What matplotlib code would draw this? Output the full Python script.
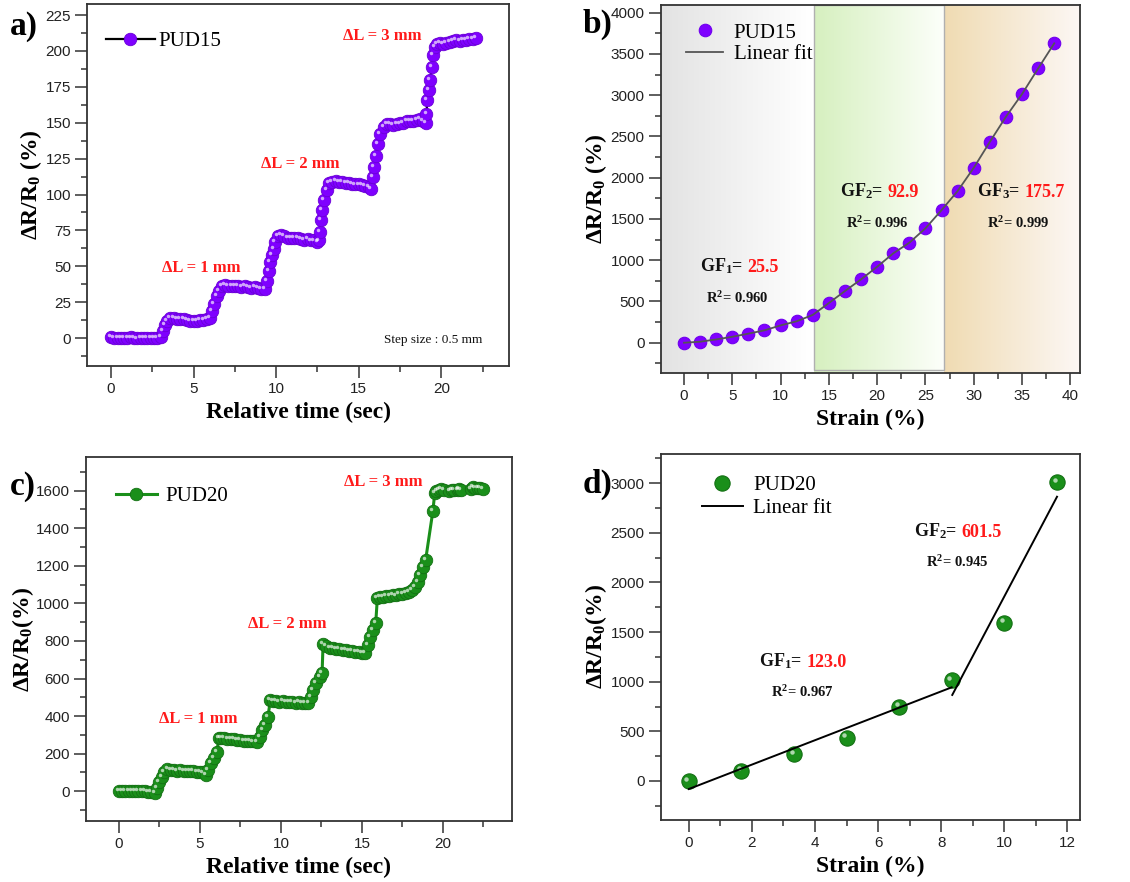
import numpy as np
import matplotlib.pyplot as plt
from matplotlib.ticker import MultipleLocator
from matplotlib.transforms import offset_copy
from matplotlib.patches import Rectangle

plt.rcParams['font.family'] = ['Liberation Serif', 'DejaVu Serif']
plt.rcParams['mathtext.fontset'] = 'custom'
plt.rcParams['mathtext.rm'] = 'Liberation Serif'
plt.rcParams['mathtext.it'] = 'Liberation Serif:italic'
plt.rcParams['mathtext.bf'] = 'Liberation Serif:bold'

PURPLE = '#7f00ff'
GREEN = '#1a8f1a'
RED = '#ff1a1a'

# ---- a) PUD15 step response
t_a = [0.0, 0.2, 0.4, 0.6, 0.8, 1.0, 1.2, 1.4, 1.6, 1.8, 2.0, 2.2, 2.4, 2.6, 2.8, 3.0,
       3.15, 3.25, 3.4, 3.6, 3.8, 4.0, 4.2, 4.4, 4.6, 4.8, 5.0, 5.2, 5.4, 5.6, 5.8, 6.0,
       6.1, 6.25, 6.4, 6.55, 6.7, 6.9, 7.1, 7.3, 7.5, 7.7, 7.9, 8.1, 8.3, 8.5, 8.7, 8.9, 9.1, 9.3,
       9.45, 9.55, 9.65, 9.75, 9.85, 9.95, 10.1, 10.3, 10.5, 10.7, 10.9, 11.1, 11.3, 11.5, 11.7, 11.9, 12.1, 12.3, 12.5,
       12.6, 12.65, 12.72, 12.8, 12.9, 13.05, 13.2, 13.4, 13.6, 13.8, 14.0, 14.2, 14.4, 14.6, 14.8, 15.0, 15.2, 15.4, 15.6, 15.75,
       15.85, 15.95, 16.05, 16.15, 16.3, 16.5, 16.7, 16.9, 17.1, 17.3, 17.5, 17.7, 17.9, 18.1, 18.3, 18.5, 18.7, 18.9, 19.05,
       19.1, 19.15, 19.25, 19.32, 19.42, 19.52, 19.62, 19.75, 19.9, 20.1, 20.3, 20.5, 20.7, 20.9, 21.1, 21.3, 21.5, 21.7, 21.9, 22.1]
y_a = [0.5, 0.2, 0.0, 0.3, -0.2, 0.1, 0.4, 0.0, -0.3, 0.2, 0.0, 0.3, -0.1, 0.2, 0.0, 1.0,
       5, 9, 12, 14, 14, 13.5, 13, 13, 12.5, 12, 12, 12, 12.5, 12.5, 13, 14,
       19, 24, 29, 33, 36, 37, 36.5, 36, 36, 36.5, 35.5, 36, 35.5, 35, 35.5, 35, 34.5, 34,
       40, 47, 53, 58, 62, 67, 71, 72, 71, 70, 70, 69.5, 70, 69, 68.5, 69, 68, 68, 67,
       68, 74, 82, 89, 96, 103, 108, 109, 109.5, 109, 108.5, 108, 108, 107.5, 107, 107, 106.5, 106, 105, 104,
       112, 119, 127, 135, 142, 147, 149, 149, 148.5, 149, 149.5, 150, 151, 151, 151.5, 152, 152.5, 151, 150,
       156, 166, 173, 180, 189, 197, 203, 205, 205.5, 205, 205.5, 206, 207, 207.5, 207, 208, 208, 208.5, 208.5, 209]

# ---- b) PUD15 strain
strain_b = [0, 1.67, 3.33, 5, 6.67, 8.33, 10, 11.67, 13.33, 15, 16.67, 18.33,
            20, 21.67, 23.33, 25, 26.67, 28.33, 30, 31.67, 33.33, 35, 36.67, 38.33]
dr_b = [0, 12, 40, 72, 110, 150, 210, 260, 337, 481, 627, 768,
        921, 1084, 1212, 1387, 1608, 1839, 2121, 2436, 2739, 3015, 3326, 3629]
gf_b = ['25.5', '92.9', '175.7']
r2_b = ['0.960', '0.996', '0.999']
regions_b = [(-2.41, 13.2), (13.45, 26.9), (26.9, 41.0)]

# ---- c) PUD20 step response
t_c = [0.0, 0.2, 0.4, 0.6, 0.8, 1.0, 1.2, 1.4, 1.6, 1.8, 2.0, 2.2,
       2.35, 2.5, 2.65, 2.8, 3.0,
       3.2, 3.4, 3.6, 3.8, 4.0, 4.2, 4.4, 4.6, 4.8, 5.0, 5.2,
       5.35, 5.5, 5.67, 5.86, 6.05, 6.17,
       6.3, 6.5, 6.7, 6.9, 7.1, 7.3, 7.5, 7.7, 7.9, 8.1, 8.3, 8.5,
       8.7, 8.86, 9.0, 9.2, 9.35,
       9.5, 9.7, 9.9, 10.1, 10.3, 10.5, 10.7, 10.9, 11.1, 11.3, 11.5, 11.7,
       11.88, 11.98, 12.19, 12.4, 12.54,
       12.6, 12.8, 13.0, 13.2, 13.4, 13.6, 13.8, 14.0, 14.2, 14.4, 14.6, 14.8, 15.0,
       15.17, 15.37, 15.52, 15.68, 15.85,
       15.95, 16.1, 16.3, 16.5, 16.7, 16.9, 17.1, 17.3, 17.5, 17.7, 17.9, 18.1,
       18.25, 18.46, 18.6, 18.77, 18.93,
       19.38, 19.49, 19.6, 19.75, 19.9, 20.05,
       20.4, 20.55, 20.7, 20.9, 21.0, 21.1,
       21.7, 21.85, 22.0, 22.15, 22.3, 22.45]
y_c = [0, 2, 3, 1, 2, 4, 2, 0, 1, -2, -6, -10,
       20, 50, 78, 105, 118,
       115, 112, 110, 112, 110, 108, 107, 106, 104, 102, 100,
       87, 113, 149, 175, 211, 282,
       285, 282, 280, 278, 277, 275, 272, 270, 268, 266, 265, 264,
       291, 326, 353, 397, 486,
       482, 478, 476, 478, 475, 474, 476, 472, 473, 470, 471, 468,
       504, 539, 575, 610, 628,
       782, 772, 765, 760, 758, 755, 752, 750, 748, 745, 742, 740, 736,
       734, 779, 823, 858, 894,
       1027, 1032, 1035, 1038, 1040, 1045, 1042, 1050, 1048, 1055, 1060, 1070,
       1089, 1116, 1151, 1195, 1231,
       1493, 1586, 1600, 1605, 1607, 1603,
       1598, 1603, 1602, 1605, 1607, 1604,
       1610, 1620, 1615, 1612, 1613, 1608]

# ---- d) PUD20 strain
strain_d = [0, 1.67, 3.33, 5, 6.67, 8.33, 10, 11.67]
dr_d = [0, 104, 269, 437, 749, 1018, 1596, 3013]
fit_d_ranges = [(0, 8.33), (8.35, 11.67)]
fit_d_slope = [123.0, 601.5]
fit_d_icpt = [-81, -4155.5]
gf_d = ['123.0', '601.5']
r2_d = ['0.967', '0.945']

fig = plt.figure(figsize=(11.3, 8.82), dpi=100)
axa = fig.add_axes([0.0770, 0.585, 0.3735, 0.4104])
axb = fig.add_axes([0.5847, 0.5771, 0.3711, 0.4172])
axc = fig.add_axes([0.0758, 0.0692, 0.3773, 0.4123])
axd = fig.add_axes([0.5847, 0.0703, 0.3711, 0.4150])


def style(ax, xmaj, xmin, ymaj, ymin):
    ax.xaxis.set_major_locator(MultipleLocator(xmaj))
    ax.xaxis.set_minor_locator(MultipleLocator(xmin))
    ax.yaxis.set_major_locator(MultipleLocator(ymaj))
    ax.yaxis.set_minor_locator(MultipleLocator(ymin))
    ax.tick_params(which='both', direction='out', top=False, right=False,
                   labelsize=11, labelcolor='#222222', labelfontfamily='Liberation Sans',
                   color='#333333', width=1.1)
    ax.tick_params(which='major', length=8.5, pad=3)
    ax.tick_params(which='minor', length=4.5)
    for s in ax.spines.values():
        s.set_linewidth(1.3)
        s.set_color('#333333')


def highlight(ax, x, y, ms, dx=-1.4, dy=1.4, z=4):
    tr = offset_copy(ax.transData, fig=fig, x=dx, y=dy, units='points')
    ax.plot(x, y, ls='none', marker='o', ms=ms, mfc='white', mec='none',
            alpha=0.65, transform=tr, zorder=z)


def gf(ax, xj, yb, idx, val, size=13):
    ax.text(xj, yb, 'GF$_\\mathbf{%d}$=' % idx, ha='right', va='baseline',
            fontsize=size, fontweight='bold', color='#111111')
    ax.annotate(val, xy=(xj, yb), xytext=(3, 0), textcoords='offset points',
                ha='left', va='baseline', fontsize=size, fontweight='bold', color=RED)


def r2(ax, xc, yb, val):
    ax.text(xc, yb, 'R$^\\mathbf{2}$= ' + val, ha='center', va='baseline',
            fontsize=10.5, fontweight='bold', color='#111111')


ylab_a = '\u0394R/R$_\\mathbf{0}$ (%)'
ylab_c = '\u0394R/R$_\\mathbf{0}$(%)'

# a)
axa.plot(t_a, y_a, '-', color='black', lw=1.6, marker='o', ms=9,
         mfc=PURPLE, mec='#6a00d6', mew=0.6, label='PUD15', zorder=3)
highlight(axa, t_a, y_a, 2.5)
axa.set_xlim(-1.45, 24.1)
axa.set_ylim(-19.5, 232.7)
style(axa, 5, 2.5, 25, 12.5)
axa.set_xlabel('Relative time (sec)', fontsize=17, fontweight='bold', labelpad=4)
axa.set_ylabel(ylab_a, fontsize=17, fontweight='bold', labelpad=1)
axa.legend(loc='center left', bbox_to_anchor=(0.045, 0.896), frameon=False,
           fontsize=15, handlelength=2.35, handletextpad=0.15, borderpad=0, borderaxespad=0)
axa.text(3.1, 49, '\u0394L = 1 mm', color=RED, fontsize=12, fontweight='bold', va='center')
axa.text(9.07, 121, '\u0394L = 2 mm', color=RED, fontsize=12, fontweight='bold', va='center')
axa.text(14.06, 210.7, '\u0394L = 3 mm', color=RED, fontsize=12, fontweight='bold', va='center')
axa.text(22.5, -1.4, 'Step size : 0.5 mm', fontsize=9.5, ha='right', va='center', color='#111111')

# b)
bg_cols = [((0.89, 0.89, 0.89), (1.0, 1.0, 1.0)),
           ((0.84, 0.94, 0.75), (0.99, 1.0, 0.98)),
           ((0.94, 0.86, 0.70), (0.99, 0.97, 0.96))]
ylo_b, yhi_b = -367, 4093
for (x0, x1), (c0, c1) in zip(regions_b, bg_cols):
    grad = np.linspace(0, 1, 256)[None, :, None]
    img = np.array(c0)[None, None, :] * (1 - grad) + np.array(c1)[None, None, :] * grad
    axb.imshow(img, extent=(x0, x1, ylo_b, yhi_b), aspect='auto', zorder=0, interpolation='bilinear')
x0, x1 = regions_b[1]
axb.add_patch(Rectangle((x0, -331), x1 - x0, yhi_b + 331, fill=False,
                        edgecolor='#b0b0b0', lw=1.0, zorder=1))
axb.plot(strain_b, dr_b, ls='none', marker='o', ms=9, mfc=PURPLE, mec='#7000ee',
         mew=0.8, label='PUD15', zorder=3)
axb.plot(strain_b, dr_b, '-', color='#555555', lw=1.3, label='Linear fit', zorder=4)
axb.set_xlim(-2.41, 41.0)
axb.set_ylim(ylo_b, yhi_b)
style(axb, 5, 2.5, 500, 250)
axb.set_xlabel('Strain (%)', fontsize=17, fontweight='bold', labelpad=4)
axb.set_ylabel(ylab_a, fontsize=17, fontweight='bold', labelpad=1)
axb.legend(loc='upper left', bbox_to_anchor=(0.06, 0.951), frameon=False, fontsize=15,
           handlelength=1.8, handletextpad=0.5, labelspacing=0.1, borderpad=0, borderaxespad=0)
gf(axb, 6.13, 860, 1, gf_b[0])
gf(axb, 20.6, 1770, 2, gf_b[1])
gf(axb, 34.85, 1770, 3, gf_b[2])
r2(axb, 5.5, 485, r2_b[0])
r2(axb, 20.0, 1394, r2_b[1])
r2(axb, 34.6, 1394, r2_b[2])

# c)
axc.plot(t_c, y_c, '-', color=GREEN, lw=2.2, marker='o', ms=9,
         mfc=GREEN, mec='#137013', mew=0.6, label='PUD20', zorder=3)
highlight(axc, t_c, y_c, 2.5)
axc.set_xlim(-2.05, 24.26)
axc.set_ylim(-158, 1777)
style(axc, 5, 2.5, 200, 100)
axc.set_xlabel('Relative time (sec)', fontsize=17, fontweight='bold', labelpad=4)
axc.set_ylabel(ylab_c, fontsize=17, fontweight='bold', labelpad=0)
axc.legend(loc='center left', bbox_to_anchor=(0.071, 0.892), frameon=False,
           fontsize=15, handlelength=1.97, handletextpad=0.4, borderpad=0, borderaxespad=0)
axc.text(2.49, 383, '\u0394L = 1 mm', color=RED, fontsize=12, fontweight='bold', va='center')
axc.text(7.98, 890, '\u0394L = 2 mm', color=RED, fontsize=12, fontweight='bold', va='center')
axc.text(13.9, 1644, '\u0394L = 3 mm', color=RED, fontsize=12, fontweight='bold', va='center')

# d)
axd.plot(strain_d, dr_d, ls='none', marker='o', ms=11, mfc=GREEN, mec='#137013',
         mew=0.8, label='PUD20', zorder=3)
highlight(axd, strain_d, dr_d, 3.2, dx=-1.7, dy=1.7)
for i, ((x0, x1), k, b) in enumerate(zip(fit_d_ranges, fit_d_slope, fit_d_icpt)):
    xs = np.array([x0, x1])
    axd.plot(xs, k * xs + b, '-', color='black', lw=1.4, zorder=5,
             label='Linear fit' if i == 0 else None)
axd.set_xlim(-0.89, 12.4)
axd.set_ylim(-393, 3295)
style(axd, 2, 1, 500, 250)
axd.set_xlabel('Strain (%)', fontsize=17, fontweight='bold', labelpad=4)
axd.set_ylabel(ylab_c, fontsize=17, fontweight='bold', labelpad=1)
axd.legend(loc='upper left', bbox_to_anchor=(0.098, 0.941), frameon=False, fontsize=15,
           handlelength=1.97, handletextpad=0.5, labelspacing=0.15, borderpad=0, borderaxespad=0)
gf(axd, 3.6, 1152, 1, gf_d[0])
gf(axd, 8.5, 2462, 2, gf_d[1])
r2(axd, 3.6, 850, r2_d[0])
r2(axd, 8.5, 2153, r2_d[1])

# panel letters
for x, y, s in [(10, 35, 'a)'), (583, 33, 'b)'), (10, 495, 'c)'), (583, 493, 'd)')]:
    fig.text(x / 1130, 1 - y / 882, s, fontsize=24, fontweight='bold', va='baseline')

fig.savefig('out.png', dpi=100)
